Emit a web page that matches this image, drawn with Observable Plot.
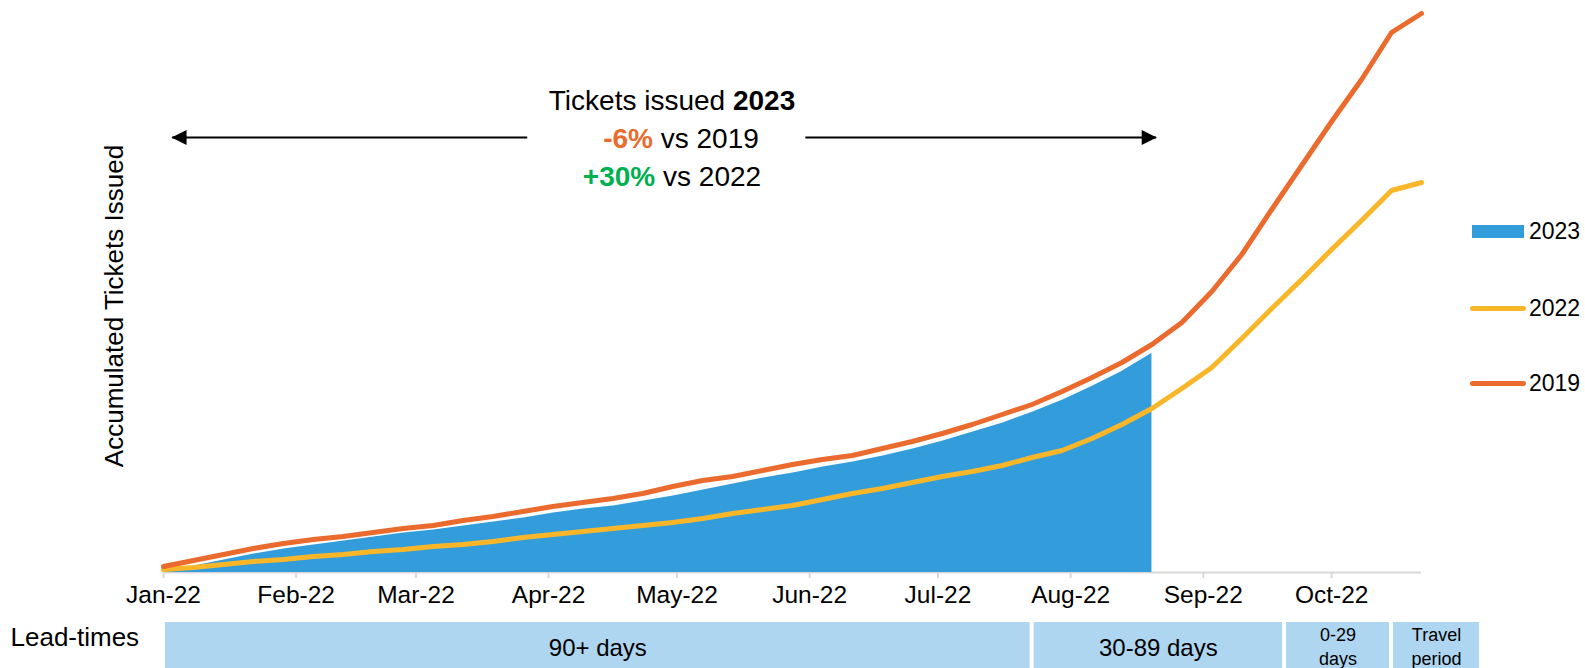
<!DOCTYPE html>
<html>
<head>
<meta charset="utf-8">
<script src="https://cdn.jsdelivr.net/npm/d3@7"></script>
<script src="https://cdn.jsdelivr.net/npm/@observablehq/plot@0.6"></script>
<style>
  body { margin: 0; background: #fff; font-family: "Liberation Sans", Arial, sans-serif; }
  #wrap { position: relative; width: 1585px; height: 668px; overflow: hidden; }
  #note { position: absolute; left: 472px; width: 400px; top: 82px; text-align: center;
          font-size: 28px; line-height: 38px; color: #000; white-space: nowrap; }
  #note .shift { position: relative; left: 9px; }
  .lg-swatch { position: absolute; }
  .lg-text { position: absolute; font-size: 23px; line-height: 26px; color: #000; }
</style>
</head>
<body>
<div id="wrap"></div>
<script>
// ---- data (weekly cumulative tickets, arbitrary units) ----
const firstWeek = "2022-01-01";
const values2019 = [6,12,18,24,29,33,36,40,44,47,52,56,61,66,70,74,79,86,92,96,102,108,113,117,124,131,139,148,158,168,181,195,210,228,250,281,318,363,407,451,493,540,559];
const values2022 = [3,5,8,11,13,16,18,21,23,26,28,31,35,38,41,44,47,50,54,59,63,67,73,79,84,90,96,101,107,115,122,134,148,164,184,205,234,264,293,323,352,382,390];
const values2023 = [2,8,14,20,25,29,33,37,41,44,48,52,56,61,65,68,73,78,84,90,96,101,107,112,118,125,133,142,151,162,174,188,203,221];
const monthTicks = ["2022-01-01","2022-02-01","2022-03-01","2022-04-01","2022-05-01","2022-06-01","2022-07-01","2022-08-01","2022-09-01","2022-10-01"];
const leadLabels = ["90+ days","30-89 days","0-29\ndays","Travel\nperiod"];
const leadStarts = ["2022-01-01","2022-07-23","2022-09-20","2022-10-15"];
const leadEnds   = ["2022-07-23","2022-09-20","2022-10-15","2022-11-05"];
const seriesNames = ["2023","2022","2019"];
// annotation arrows (tail, tip) in date / value space
const arrowTails = ["2022-03-27","2022-05-31"];
const arrowTips  = ["2022-01-03","2022-08-21"];
const arrowLevel = 435;

// ---- build tables ----
const start = new Date(firstWeek);
const wk = i => d3.utcDay.offset(start, 7 * i);
const d2019 = values2019.map((v, i) => ({date: wk(i), value: v}));
const d2022 = values2022.map((v, i) => ({date: wk(i), value: v}));
const d2023 = values2023.map((v, i) => ({date: wk(i), value: v}));
const ticks = monthTicks.map(d => new Date(d));
const bands = leadLabels.map((l, i) => ({label: l, x1: new Date(leadStarts[i]), x2: new Date(leadEnds[i])}));
bands.forEach(b => b.mid = new Date((+b.x1 + +b.x2) / 2));
const arrows = arrowTails.map((t, i) => ({x1: new Date(t), x2: new Date(arrowTips[i]), y: arrowLevel, dir: i === 0 ? -1 : 1}));

const C2023 = "#339cdb", C2022 = "#f9b629", C2019 = "#ea6b2d", CBand = "#aed6f0";

const triLeft = {draw(ctx, size) { const s = Math.sqrt(size) / 2; ctx.moveTo(-s, 0); ctx.lineTo(s, -s); ctx.lineTo(s, s); ctx.closePath(); }};
const triRight = {draw(ctx, size) { const s = Math.sqrt(size) / 2; ctx.moveTo(s, 0); ctx.lineTo(-s, -s); ctx.lineTo(-s, s); ctx.closePath(); }};

const chart = Plot.plot({
  width: 1585,
  height: 668,
  marginLeft: 163,
  marginRight: 164,
  marginTop: 13,
  marginBottom: 96,
  style: {fontFamily: "Liberation Sans, Arial, sans-serif", background: "transparent", overflow: "visible"},
  x: {type: "utc", domain: [start, wk(42)], axis: null},
  y: {domain: [0, 559], axis: null},
  marks: [
    Plot.ruleY([0], {stroke: "#d9d9d9", strokeWidth: 2}),
    Plot.ruleX(ticks, {x: d => d, y1: 0, y2: -6, stroke: "#d9d9d9", strokeWidth: 2}),
    Plot.areaY(d2023, {x: "date", y: "value", fill: C2023}),
    Plot.line(d2023, {x: "date", y: "value", stroke: "white", strokeWidth: 2}),
    Plot.line(d2022, {x: "date", y: "value", stroke: C2022, strokeWidth: 5, strokeLinecap: "round", strokeLinejoin: "round"}),
    Plot.line(d2019, {x: "date", y: "value", stroke: C2019, strokeWidth: 5, strokeLinecap: "round", strokeLinejoin: "round"}),
    Plot.text(ticks, {x: d => d, frameAnchor: "bottom", dy: 30, text: d => d3.utcFormat("%b-%y")(d), fontSize: 24.5, fill: "#000"}),
    // lead-time bands below the axis
    Plot.rect(bands, {x1: "x1", x2: "x2", y1: -50, y2: -96, fill: CBand, insetLeft: 2, insetRight: 2}),
    Plot.text(bands, {x: "mid", y: -73, text: "label", fontSize: d => d.label.includes("\n") ? 18 : 24, lineHeight: 1.33, fill: "#000"}),
    Plot.text(["Lead-times"], {frameAnchor: "bottom-left", dx: -153, dy: 73, textAnchor: "start", fontSize: 26, fill: "#000"}),
    Plot.text(["Accumulated Tickets Issued"], {frameAnchor: "left", dx: -49, dy: 13, rotate: -90, textAnchor: "middle", fontSize: 26, fill: "#000"}),
    // annotation arrows
    Plot.link(arrows, {x1: "x1", x2: "x2", y1: "y", y2: "y", stroke: "#000", strokeWidth: 2}),
    Plot.dot(arrows.filter(a => a.dir < 0), {x: "x2", y: "y", symbol: triLeft, r: 8.5, fill: "#000", stroke: "none", dx: 7}),
    Plot.dot(arrows.filter(a => a.dir > 0), {x: "x2", y: "y", symbol: triRight, r: 8.5, fill: "#000", stroke: "none", dx: -7})
  ]
});

const wrap = document.getElementById("wrap");
wrap.appendChild(chart);

// annotation text
const note = document.createElement("div");
note.id = "note";
note.innerHTML = `Tickets issued <b>2023</b><br><span class="shift"><b style="color:${C2019}">-6%</b> vs 2019</span><br><b style="color:#00b050">+30%</b> vs 2022`;
wrap.appendChild(note);

// legend
const legendColors = [C2023, C2022, C2019];
const legendTops = [231, 308, 383];
seriesNames.forEach((name, i) => {
  const sw = document.createElement("div");
  sw.className = "lg-swatch";
  if (i === 0) {
    Object.assign(sw.style, {left: "1472px", top: (legendTops[i] - 6.5) + "px", width: "52px", height: "13px", background: legendColors[i]});
  } else {
    Object.assign(sw.style, {left: "1470px", top: (legendTops[i] - 2.5) + "px", width: "56px", height: "5px", borderRadius: "2.5px", background: legendColors[i]});
  }
  wrap.appendChild(sw);
  const tx = document.createElement("div");
  tx.className = "lg-text";
  tx.textContent = name;
  Object.assign(tx.style, {left: "1529px", top: (legendTops[i] - 13) + "px"});
  wrap.appendChild(tx);
});
</script>
</body>
</html>
